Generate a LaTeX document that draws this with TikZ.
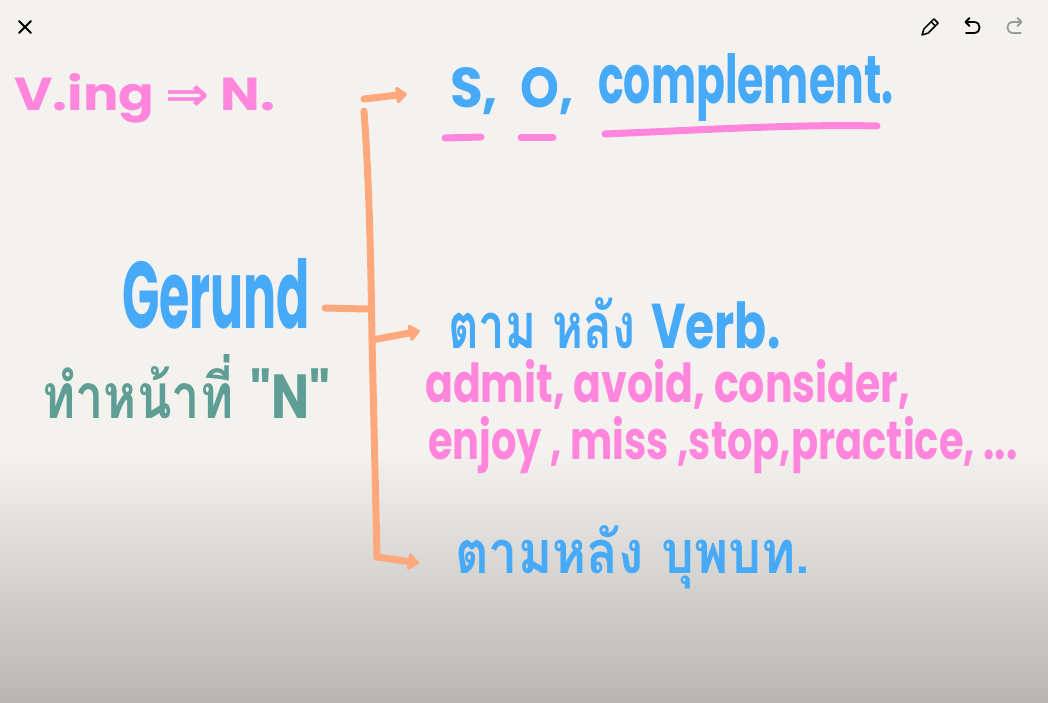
\documentclass[tikz,border=0pt]{standalone}
\usepackage{fontspec}
\usepackage{graphicx}
\usetikzlibrary{arrows.meta}
\newfontfamily\thaifont[Script=Thai]{Loma}
\newfontfamily\handfont{Poppins}
\newfontfamily\symfont{DejaVu Sans}
\definecolor{bgtop}{HTML}{F4F2EF}
\definecolor{bgbot}{HTML}{B8B6B2}
\definecolor{hpink}{HTML}{FF86DC}
\definecolor{hblue}{HTML}{47AAF8}
\definecolor{hteal}{HTML}{5F9E94}
\definecolor{horange}{HTML}{FFA87C}
\definecolor{icongray}{HTML}{9A9A9A}
\newcommand{\fitbox}[3]{\resizebox{#1pt}{#2pt}{#3}}
\tikzset{
  txt/.style={inner sep=0pt, anchor=base west},
  bracket/.style={draw=horange, line width=7pt, line cap=round, line join=round},
  arr/.style={bracket, -{Triangle[length=12pt,width=19pt,round]}},
  uline/.style={draw=hpink, line width=7pt, line cap=round},
  icon/.style={line width=1.8pt, line cap=round, line join=round}
}
\begin{document}
\begin{tikzpicture}[x=1pt,y=-1pt]
\useasboundingbox (0,0) rectangle (1048,703);
\fill[bgtop] (0,0) rectangle (1048,451);
\shade[top color=bgtop, bottom color=bgbot] (0,450) rectangle (1048,703);
% icons
\draw[icon, black] (19,21) -- (31,33) (31,21) -- (19,33);
\draw[icon, black, line width=1.5pt] (922,35) -- (928.1,33.1) -- (938.1,23.1) -- (933.9,18.9) -- (923.9,28.9) -- cycle;
\draw[icon, black, line width=1.5pt] (935.2,25.9) -- (931.1,21.7);
\draw[icon, black] (966,22) -- (974,22) .. controls (981.5,22) and (981.5,33) .. (974,33) -- (966,33);
\draw[icon, black] (969.5,18) -- (965.5,22) -- (969.5,26);
\draw[icon, icongray] (1021,22) -- (1013,22) .. controls (1005.5,22) and (1005.5,33) .. (1013,33) -- (1021,33);
\draw[icon, icongray] (1017.5,18) -- (1021.5,22) -- (1017.5,26);
% texts
\node[txt, text=hpink] (ving) at (14,111) {\fitbox{261}{37}{\handfont\bfseries V.ing {\symfont\bfseries ⇒} N.}};
\node[txt, text=hblue] (gerund) at (122,328) {\fitbox{188}{70}{\handfont\bfseries Gerund}};
\node[txt, text=hteal] (role) at (42,418) {\fitbox{288}{64}{\thaifont\bfseries ทำหน้าที่ \handfont "N"}};
\node[txt, text=hblue] (s) at (450,108) {\fitbox{48}{40}{\handfont\bfseries S,}};
\node[txt, text=hblue] (o) at (520,108) {\fitbox{53}{40}{\handfont\bfseries O,}};
\node[txt, text=hblue] (comp) at (598,104) {\fitbox{295}{50}{\handfont\bfseries complement.}};
\node[txt, text=hblue] (verb) at (448,348) {\fitbox{332}{51}{\thaifont\bfseries ตาม หลัง \handfont Verb.}};
\node[txt, text=hpink] (list1) at (425,402) {\fitbox{485}{43}{\handfont\bfseries admit, avoid, consider,}};
\node[txt, text=hpink] (list2) at (428,459) {\fitbox{589}{43}{\handfont\bfseries enjoy , miss ,stop,practice, ...}};
\node[txt, text=hblue] (prep) at (455,573) {\fitbox{355}{48}{\thaifont\bfseries ตามหลัง บุพบท.}};
% underlines
\draw[uline] (445,138) -- (481,137);
\draw[uline] (521,138) -- (553,138);
\draw[uline] (605,134) .. controls (700,130) and (800,124) .. (877,126);
% bracket
\coordinate (stubL) at (325,308);
\coordinate (stubR) at (367,309);
\coordinate (topS) at (364,99);
\coordinate (topE) at (407,94);
\coordinate (vTop) at (364,111);
\coordinate (vMid) at (372,340);
\coordinate (vBot) at (377,557);
\coordinate (midE) at (420,331);
\coordinate (botE) at (419,563);
\draw[bracket] (stubL) -- (stubR);
\draw[arr] (topS) -- (topE);
\draw[bracket] (vTop) .. controls (369,180) and (371,260) .. (vMid) -- (vBot);
\draw[arr] (vMid) -- (midE);
\draw[arr] (vBot) -- (botE);
\end{tikzpicture}
\end{document}
